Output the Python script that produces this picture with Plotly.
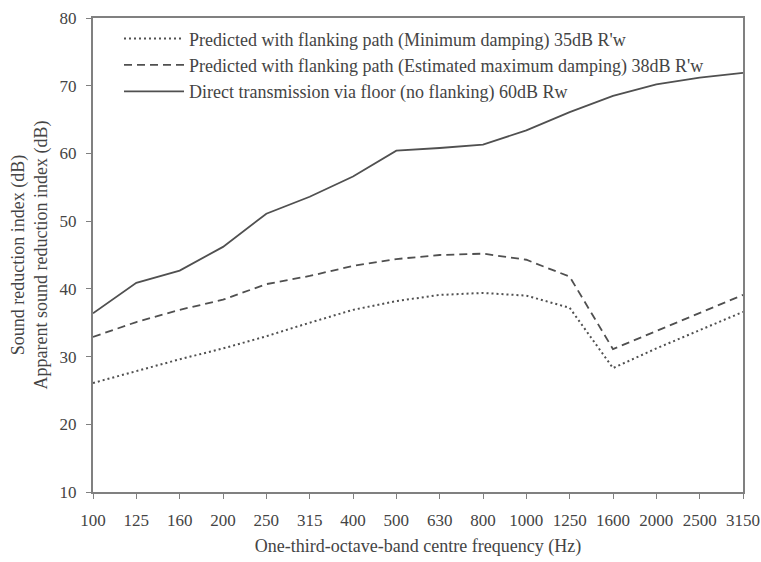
import plotly.graph_objects as go

freqs = ["100", "125", "160", "200", "250", "315", "400", "500", "630", "800",
         "1000", "1250", "1600", "2000", "2500", "3150"]
min_damping = [26.1, 27.9, 29.6, 31.2, 33.0, 35.0, 36.9, 38.2, 39.1, 39.4,
               39.0, 37.2, 28.3, 31.2, 33.9, 36.6]
max_damping = [32.9, 35.1, 36.9, 38.4, 40.7, 41.9, 43.4, 44.4, 45.0, 45.2,
               44.3, 41.8, 31.1, 33.8, 36.5, 39.1]
direct = [36.4, 40.9, 42.7, 46.2, 51.1, 53.6, 56.6, 60.4, 60.8, 61.3,
          63.4, 66.1, 68.5, 70.2, 71.2, 71.9]

names = [
    "Predicted with flanking path (Minimum damping) 35dB R'w",
    "Predicted with flanking path (Estimated maximum damping) 38dB R'w",
    "Direct transmission via floor (no flanking) 60dB Rw",
]

col = "#505050"
axcol = "#808080"
font = "Liberation Serif, Times New Roman, serif"

fig = go.Figure()
fig.add_trace(go.Scatter(x=freqs, y=min_damping, mode="lines", name=names[0],
                         line=dict(color=col, width=2, dash="2px,3px")))
fig.add_trace(go.Scatter(x=freqs, y=max_damping, mode="lines", name=names[1],
                         line=dict(color=col, width=1.8, dash="8px,5px")))
fig.add_trace(go.Scatter(x=freqs, y=direct, mode="lines", name=names[2],
                         line=dict(color=col, width=1.8)))

fig.update_layout(
    width=761, height=562,
    margin=dict(l=93, r=18, t=18, b=70, autoexpand=False),
    paper_bgcolor="white", plot_bgcolor="white",
    font=dict(family=font, size=17, color="#444444"),
    showlegend=True,
    legend=dict(x=0.04, y=0.995, xanchor="left", yanchor="top",
                bgcolor="rgba(0,0,0,0)", font=dict(size=18, color="#444444"),
                tracegroupgap=0, itemwidth=60),
)
fig.update_xaxes(
    type="category", range=[0, 15], automargin=False,
    showline=True, linecolor=axcol, linewidth=2, mirror=True,
    ticks="outside", ticklen=5, tickcolor=axcol, showgrid=False,
    ticklabelstandoff=7,
    title=dict(text="One-third-octave-band centre frequency (Hz)", standoff=10,
               font=dict(size=18)),
    tickfont=dict(size=17),
)
fig.update_yaxes(
    range=[10, 80], dtick=10, tick0=10, automargin=False,
    showline=True, linecolor=axcol, linewidth=2, mirror=True,
    ticks="outside", ticklen=5, tickcolor=axcol, showgrid=False,
    zeroline=False, ticklabelstandoff=6,
    title=dict(text="Sound reduction index (dB)<br>Apparent sound reduction index (dB)",
               standoff=7, font=dict(size=18)),
    tickfont=dict(size=17),
)

fig.write_html(
    "out.html",
    config={"displayModeBar": False},
    post_script="document.body.style.margin='0';document.body.style.overflow='hidden';",
)
